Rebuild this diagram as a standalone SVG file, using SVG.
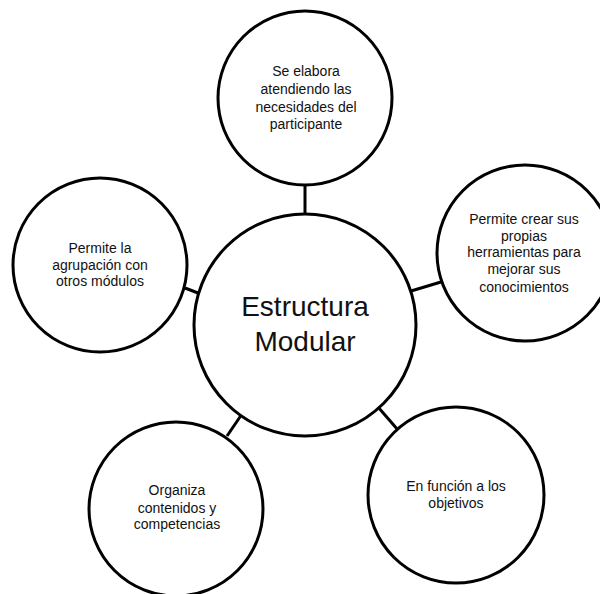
<svg xmlns="http://www.w3.org/2000/svg" width="600" height="594" viewBox="0 0 600 594">
<style>
.node circle{fill:#fff;stroke:#000;stroke-width:3}
.conn line{stroke:#000;stroke-width:3}
text{font-family:"Liberation Sans",Arial,sans-serif;font-size:14px;fill:#111;text-anchor:middle}
.big{font-size:28px}
</style>
<rect width="600" height="594" fill="#fff"/>
<g id="connectors" class="conn">
<line x1="305" y1="185" x2="305" y2="215"/>
<line x1="411" y1="291" x2="441" y2="282"/>
<line x1="185" y1="288" x2="198" y2="293"/>
<line x1="227" y1="436" x2="242" y2="414"/>
<line x1="378" y1="407" x2="398" y2="430"/>
</g>
<g id="center" class="node">
<circle cx="305" cy="325" r="111"/>
<text class="big" x="305" y="316">Estructura</text>
<text class="big" x="305" y="351">Modular</text>
</g>
<g id="top" class="node">
<circle cx="305" cy="98" r="87"/>
<text x="306" y="76">Se elabora</text>
<text x="306" y="94">atendiendo las</text>
<text x="306" y="112">necesidades del</text>
<text x="306" y="129">participante</text>
</g>
<g id="right" class="node">
<circle cx="525" cy="253" r="88"/>
<text x="524" y="224">Permite crear sus</text>
<text x="524" y="241">propias</text>
<text x="524" y="257">herramientas para</text>
<text x="524" y="274">mejorar sus</text>
<text x="524" y="292">conocimientos</text>
</g>
<g id="left" class="node">
<circle cx="100" cy="265" r="87"/>
<text x="100" y="253">Permite la</text>
<text x="100" y="270">agrupación con</text>
<text x="100" y="286">otros módulos</text>
</g>
<g id="bottom-left" class="node">
<circle cx="176" cy="509" r="87"/>
<text x="177" y="495">Organiza</text>
<text x="177" y="513">contenidos y</text>
<text x="177" y="529">competencias</text>
</g>
<g id="bottom-right" class="node">
<circle cx="456" cy="495" r="88"/>
<text x="456" y="491">En función a los</text>
<text x="456" y="508">objetivos</text>
</g>
</svg>
